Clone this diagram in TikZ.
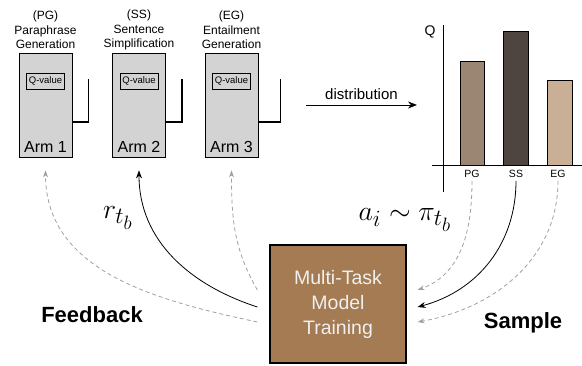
\documentclass[tikz,border=0pt]{standalone}
\usepackage{fontspec}
\setmainfont{Liberation Sans}
\usetikzlibrary{positioning,arrows.meta}

\definecolor{armgray}{HTML}{D3D3D3}
\definecolor{pgbrown}{HTML}{9A8672}
\definecolor{ssbrown}{HTML}{4E4540}
\definecolor{egbrown}{HTML}{C8AF95}
\definecolor{trainbrown}{HTML}{A47B52}
\definecolor{fbgray}{HTML}{A0A0A0}

\begin{document}
\begin{tikzpicture}[x=1pt,y=1pt,
    arm/.style={draw,thick,fill=armgray,minimum width=53pt,minimum height=104pt},
    qbox/.style={draw,thick,inner sep=1pt,minimum width=38pt,minimum height=16pt,
        font=\fontsize{9.5}{11}\selectfont},
    armname/.style={inner sep=0pt,font=\fontsize{16}{18}\selectfont},
    task/.style={align=center,font=\fontsize{12}{14.5}\selectfont},
    lever/.style={line width=1.6pt},
    bar/.style={draw,thick},
    barlab/.style={inner sep=3pt,font=\fontsize{10.5}{12}\selectfont},
    train/.style={draw,very thick,fill=trainbrown,text=white!94!black,align=center,
        minimum width=136pt,minimum height=118pt,font=\fontsize{19.5}{25}\selectfont},
    fb/.style={fbgray,dashed,dash pattern=on 4pt off 3pt,thick,-{Stealth[length=7pt,width=5pt]}},
    fbmain/.style={black,thick,-{Stealth[length=8pt,width=6pt]}},
    mathlab/.style={scale=1.12,font=\Huge},
    phase/.style={font=\fontsize{22}{24}\selectfont\bfseries}]
    \useasboundingbox (0,0) rectangle (582,365);

    % arms
    \foreach \i/\x/\lev/\abbr/\la/\lb in {1/45.5/16/PG/Paraphrase/Generation,
        2/139/16/SS/Sentence/Simplification,3/231.5/22/EG/Entailment/Generation}{
        \node[arm] (arm\i) at (\x,260) {};
        \node[qbox] (q\i) at (\x,284) {Q-value};
        \node[armname,above=5pt of arm\i.south] (name\i) {Arm \i};
        \node[task] (task\i) at (\x,335) {(\abbr)\\\la\\\lb};
        \draw[lever] ([yshift=-17pt]arm\i.east) -- ++(\lev,0) -- ++(0,43);
    }

    % distribution
    \coordinate (d0) at (306,260);
    \coordinate (d1) at (417,260);
    \draw[thick,-{Stealth[length=9pt,width=7pt]}] (d0) -- node[above=2pt,font=\fontsize{15}{17}\selectfont] {distribution} (d1);

    % chart
    \draw[bar,fill=pgbrown] (460,200) rectangle (484,304);
    \draw[bar,fill=ssbrown] (503,200) rectangle (528,334);
    \draw[bar,fill=egbrown] (547,200) rectangle (572,285);
    \draw (443,340) -- (443,173);
    \draw (432,200) -- (582,200);
    \node[font=\fontsize{14}{16}\selectfont] (qaxis) at (430,333) {Q};
    \node[barlab] (pg) at (472,191) {PG};
    \node[barlab] (ss) at (516,191) {SS};
    \node[barlab] (eg) at (558,191) {EG};

    % training
    \node[train] (train) at (338,61) {Multi-Task\\Model\\Training};

    % feedback
    \draw[fb] ([xshift=-12pt,yshift=-18pt]train.west) to[out=168,in=-90] ([yshift=-13pt]arm1.south);
    \draw[fbmain] ([xshift=-12pt,yshift=-3pt]train.west) to[out=162,in=-90] ([yshift=-13pt]arm2.south);
    \draw[fb] ([xshift=-12pt,yshift=14pt]train.west) to[out=120,in=-90] ([yshift=-13pt]arm3.south);

    % sample
    \draw[fb] (pg.south) to[out=-90,in=20] ([xshift=11pt,yshift=14pt]train.east);
    \draw[fbmain] (ss.south) to[out=-90,in=15] ([xshift=11pt,yshift=-3pt]train.east);
    \draw[fb] (eg.south) to[out=-90,in=10] ([xshift=11pt,yshift=-18pt]train.east);

    \node[mathlab] (reward) at (118,147) {$r_{t_b}$};
    \node[mathlab] (policy) at (405,145) {$a_i \sim \pi_{t_b}$};
    \node[phase] (feedback) at (92,50) {Feedback};
    \node[phase] (sample) at (523,42) {Sample};
\end{tikzpicture}
\end{document}
